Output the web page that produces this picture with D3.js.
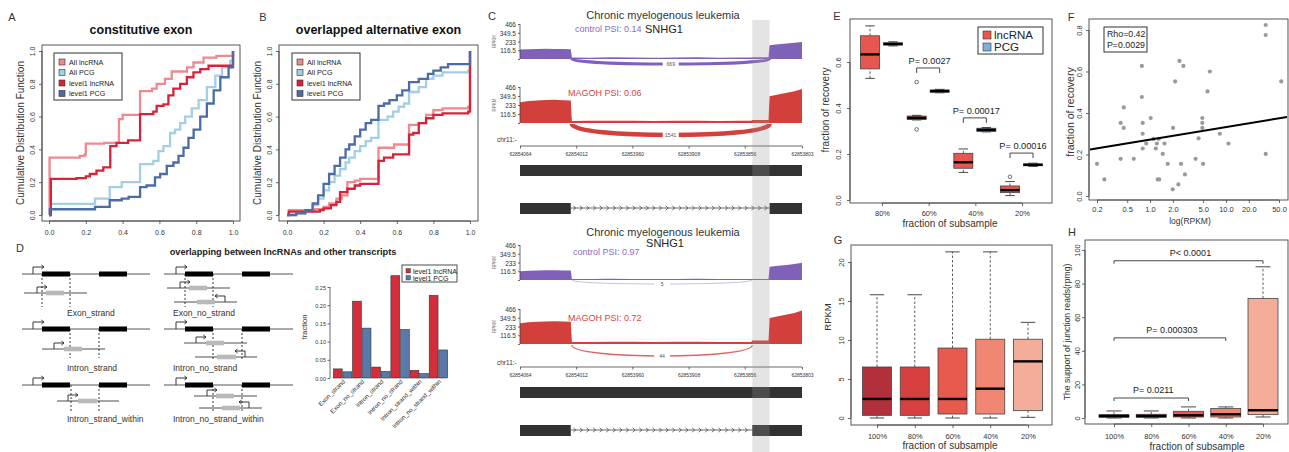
<!DOCTYPE html>
<html><head><meta charset="utf-8">
<script src="https://cdn.jsdelivr.net/npm/d3@7/dist/d3.min.js"></script>
<style>html,body{margin:0;padding:0;background:#fff}</style>
</head><body>
<svg id="fig" width="1289" height="452" xmlns="http://www.w3.org/2000/svg"></svg>
<script>
// ================= DATA =================
// Panel A/B: cumulative distributions (step points)
const cdfNames = ["All lncRNA","All PCG","level1 lncRNA","level1 PCG"];
const A_allLnc_x = [0,0.003,0.167,0.195,0.2,0.3,0.38,0.4,0.495,0.56,0.585,0.63,0.667,0.75,0.785,0.84,0.91,0.99,1.0];
const A_allLnc_y = [0,0.35,0.36,0.37,0.435,0.44,0.585,0.61,0.755,0.77,0.8,0.83,0.875,0.9,0.93,0.96,0.97,0.97,1.0];
const A_allPcg_x = [0,0.005,0.25,0.33,0.395,0.495,0.567,0.595,0.622,0.658,0.685,0.713,0.74,0.776,0.813,0.858,0.904,0.94,0.985,1.0];
const A_allPcg_y = [0,0.068,0.1,0.17,0.2,0.31,0.33,0.39,0.42,0.5,0.52,0.56,0.6,0.65,0.7,0.78,0.85,0.9,0.94,1.0];
const A_lvlLnc_x = [0,0.01,0.15,0.2,0.222,0.258,0.295,0.333,0.367,0.43,0.495,0.567,0.585,0.622,0.649,0.676,0.713,0.749,0.785,0.822,0.867,0.99,1.0];
const A_lvlLnc_y = [0,0.22,0.225,0.235,0.25,0.27,0.29,0.42,0.44,0.455,0.615,0.63,0.665,0.675,0.73,0.77,0.8,0.84,0.87,0.89,0.91,0.91,1.0];
const A_lvlPcg_x = [0,0.005,0.25,0.33,0.395,0.433,0.495,0.53,0.576,0.604,0.64,0.676,0.704,0.731,0.758,0.786,0.822,0.858,0.895,0.931,0.976,1.0];
const A_lvlPcg_y = [0,0.035,0.05,0.09,0.1,0.11,0.17,0.18,0.23,0.25,0.3,0.32,0.36,0.41,0.47,0.52,0.6,0.68,0.76,0.84,0.9,1.0];

const B_allLnc_x = [0,0.01,0.15,0.2,0.23,0.27,0.3,0.33,0.37,0.4,0.5,0.585,0.667,0.72,0.76,0.8,0.85,0.99,1.0];
const B_allLnc_y = [0,0.03,0.035,0.05,0.07,0.1,0.12,0.2,0.21,0.22,0.41,0.43,0.55,0.56,0.61,0.64,0.65,0.66,1.0];
const B_allPcg_x = [0,0.05,0.1,0.14,0.17,0.2,0.23,0.26,0.29,0.32,0.34,0.37,0.4,0.43,0.46,0.5,0.55,0.58,0.61,0.64,0.667,0.72,0.76,0.8,0.85,0.99,1.0];
const B_allPcg_y = [0,0.01,0.03,0.06,0.1,0.15,0.2,0.24,0.28,0.32,0.35,0.39,0.42,0.45,0.47,0.58,0.6,0.63,0.66,0.68,0.75,0.78,0.83,0.85,0.87,0.88,1.0];
const B_lvlLnc_x = [0,0.01,0.18,0.2,0.24,0.27,0.29,0.33,0.37,0.4,0.5,0.53,0.58,0.667,0.69,0.72,0.76,0.8,0.85,0.99,1.0];
const B_lvlLnc_y = [0,0.02,0.03,0.04,0.06,0.08,0.14,0.16,0.18,0.19,0.33,0.35,0.37,0.49,0.5,0.56,0.59,0.61,0.62,0.63,1.0];
const B_lvlPcg_x = [0,0.05,0.1,0.14,0.17,0.2,0.23,0.26,0.29,0.32,0.34,0.37,0.4,0.43,0.46,0.5,0.53,0.56,0.6,0.63,0.667,0.72,0.77,0.8,0.84,0.88,0.99,1.0];
const B_lvlPcg_y = [0,0.01,0.03,0.07,0.12,0.19,0.25,0.3,0.35,0.4,0.43,0.48,0.52,0.56,0.58,0.665,0.68,0.7,0.73,0.76,0.81,0.83,0.86,0.88,0.9,0.92,0.92,1.0];
const cdfTicks = [0,0.2,0.4,0.6,0.8,1.0];

// Panel C: sashimi coverage
const C_pos = [62854064,62854056,62854048,62854040,62854032,62854024,62854017,62854016,62854000,62853980,62853960,62853940,62853920,62853900,62853880,62853860,62853850,62853849,62853834,62853833,62853825,62853817,62853810,62853803];
const C_ctrl1  = [125,130,134,136,134,132,130,20,18,22,20,18,20,22,18,20,20,22,22,182,195,205,215,228];
const C_magoh1 = [270,285,292,298,300,296,290,25,28,30,28,27,30,28,26,28,28,40,40,345,370,390,410,440];
const C_ctrl2  = [118,124,128,130,130,128,126,12,14,15,14,13,14,15,13,12,12,14,14,175,190,200,212,230];
const C_magoh2 = [275,290,296,300,302,298,295,25,28,30,30,28,30,29,27,28,28,48,48,345,370,392,412,445];
const C_yTicks = [0,116.5,233,349.5,466];
const C_gTicks = [62854064,62854012,62853960,62853908,62853856,62853803];
const C_junc1 = [62854016,62853833];   // exon-skipping junction, upper panel
const C_junc2 = [62854016,62853849];   // junction, lower panel
const C_counts = [669,1541,5,44];
const C_psi = ["control PSI: 0.14","MAGOH PSI: 0.06","control PSI: 0.97","MAGOH PSI: 0.72"];
const C_model1 = [[62854064,62853803]];
const C_model2top = [[62854064,62854017],[62853833,62853803]];
const C_model2bot = [[62854064,62854017],[62853849,62853803]];
const C_band = [62853849,62853833];

// Panel D bars
const D_cats = ["Exon_strand","Exon_no_strand","Intron_strand","Intron_no_strand","Intron_strand_within","Intron_no_strand_within"];
const D_lnc = [0.025,0.211,0.030,0.281,0.021,0.227];
const D_pcg = [0.017,0.137,0.018,0.133,0.012,0.077];
const D_ticks = [0,0.05,0.10,0.15,0.20,0.25];

// Panel E boxplots [min,q1,median,q3,max]
const E_cats = ["80%","60%","40%","20%"];
const E_lnc = [[0.529,0.570,0.633,0.714,0.757],[0.348,0.350,0.357,0.365,0.368],[0.120,0.138,0.164,0.203,0.222],[0.019,0.032,0.043,0.061,0.080]];
const E_lncOut = [[],[0.513,0.307],[],[0.101]];
const E_pcg = [[0.670,0.674,0.678,0.684,0.688],[0.466,0.468,0.474,0.478,0.481],[0.296,0.298,0.305,0.312,0.315],[0.146,0.149,0.153,0.157,0.160]];
const E_pLabels = ["P= 0.0027","P= 0.00017","P= 0.00016"];
const E_pCats = ["60%","40%","20%"];
const E_pLevels = [0.574,0.357,0.204];
const E_ticks = [0,0.2,0.4,0.6];

// Panel F scatter
const F_rpkm = [0.2,0.25,0.41,0.45,0.45,0.41,0.61,0.78,0.78,0.8,0.8,0.8,0.89,1.02,1.11,1.19,1.23,1.26,1.32,1.3,1.47,1.55,1.71,1.99,2.01,2.14,2.36,2.44,2.56,2.75,2.88,3.98,4.36,4.88,4.88,4.88,5.0,5.72,6.14,8.3,10.8,33.4,33.4,33.4,53.6];
const F_recovery = [0.155,0.08,0.352,0.328,0.427,0.179,0.179,0.627,0.477,0.352,0.30,0.229,0.253,0.376,0.275,0.229,0.253,0.08,0.08,0.275,0.203,0.253,0.155,0.032,0.328,0.552,0.056,0.651,0.155,0.627,0.104,0.179,0.278,0.376,0.352,0.328,0.155,0.504,0.6,0.30,0.253,0.824,0.776,0.203,0.552];
const F_fit = [0.2717,0.0605]; // intercept, slope on log10(RPKM)
const F_xticks = [0.2,0.5,1,2,5,10,20,50];
const F_yticks = [0,0.2,0.4,0.6,0.8];
const F_stats = ["Rho=0.42","P=0.0029"];

// Panel G / H boxplots
const GH_cats = ["100%","80%","60%","40%","20%"];
const G_stats = [[0,0.34,2.44,6.54,15.8],[0,0.34,2.44,6.54,15.8],[0,0.51,2.44,8.97,21.3],[0,0.51,3.76,10.1,21.3],[0.085,0.94,7.26,10.1,12.26]];
const G_ticks = [0,5,10,15,20];
const H_stats = [[0,0.4,1.2,2.0,4.2],[0,0.4,1.2,2.2,4.2],[0,0.6,1.6,4.0,6.6],[0,0.6,2.2,5.6,6.6],[0.6,2.0,4.6,71.2,90]];
const H_ticks = [0,20,40,60,80,100];
const H_pTo = ["20%","40%","60%"];
const H_pLevels = [93.6,47.7,11.9];
const H_pLabels = ["P< 0.0001","P= 0.000303","P= 0.0211"];

// ================= STYLE / HELPERS =================
const FONT = '"Liberation Sans", Arial, Helvetica, sans-serif';
const INK = "#222", AXC = "#444";
const cdfColors = ["#f2878e","#a3cfe2","#d5243a","#4c6ca6"];
const subColors = ["#b2303b","#d8403f","#e95a4e","#ef8772","#f4ad99"];
const svg = d3.select("#fig").attr("font-family", FONT);
svg.append("rect").attr("width",1289).attr("height",452).attr("fill","#fff");

function T(x,y,s,o={}){
  const t = svg.append("text").attr("x",x).attr("y",y).text(s)
    .attr("font-size",o.size||8).attr("fill",o.fill||INK)
    .attr("text-anchor",o.anchor||"middle").attr("dominant-baseline","central");
  if(o.bold) t.attr("font-weight","bold");
  if(o.rot!=null) t.attr("transform",`rotate(${o.rot},${x},${y})`);
  return t;
}
function frame(x1,y1,x2,y2){
  svg.append("rect").attr("x",x1).attr("y",y1).attr("width",x2-x1).attr("height",y2-y1)
    .attr("fill","none").attr("stroke",AXC).attr("stroke-width",0.9);
}
function axisLeftR(scale,ticks,x,o={}){
  const a = d3.axisLeft(scale).tickValues(ticks).tickSize(o.len||3).tickSizeOuter(0).tickFormat(o.fmt||(d=>d));
  const gg = svg.append("g").attr("transform",`translate(${x},0)`).call(a).attr("font-family",FONT);
  gg.select(".domain").remove();
  gg.append("line").attr("y1",scale(ticks[0])).attr("y2",scale(ticks[ticks.length-1])).attr("stroke",AXC).attr("stroke-width",0.8);
  gg.selectAll(".tick line").attr("stroke",AXC).attr("stroke-width",0.8);
  const tx = gg.selectAll(".tick text").attr("font-size",o.size||7).attr("fill","#333");
  if(o.rot){
    tx.attr("x",null).attr("dy",null).attr("text-anchor","middle").attr("dominant-baseline","central")
      .attr("transform",`translate(${-o.off},0) rotate(-90)`);
  } else {
    tx.attr("x",-(o.off||5)).attr("dy",null).attr("dominant-baseline","central");
  }
  return gg;
}
function axisBottomR(scale,ticks,y,o={}){
  const a = d3.axisBottom(scale).tickValues(ticks).tickSize(o.len||3).tickSizeOuter(0).tickFormat(o.fmt||(d=>d));
  const gg = svg.append("g").attr("transform",`translate(0,${y})`).call(a).attr("font-family",FONT);
  gg.select(".domain").remove();
  gg.append("line").attr("x1",scale(ticks[0])).attr("x2",scale(ticks[ticks.length-1])).attr("stroke",AXC).attr("stroke-width",0.8);
  gg.selectAll(".tick line").attr("stroke",AXC).attr("stroke-width",0.8);
  gg.selectAll(".tick text").attr("font-size",o.size||7).attr("fill","#333").attr("y",null).attr("dy",null)
    .attr("dominant-baseline","central").attr("transform",`translate(0,${o.off||10})`);
  return gg;
}
function boxR(cx,w,s,y,fill,o={}){
  const [mn,q1,md,q3,mx] = s;
  const g = svg.append("g");
  const wl = (a,b)=>g.append("line").attr("x1",cx).attr("x2",cx).attr("y1",y(a)).attr("y2",y(b))
      .attr("stroke","#333").attr("stroke-width",0.8).attr("stroke-dasharray","2.5,2");
  wl(q3,mx); wl(mn,q1);
  const cap = v=>g.append("line").attr("x1",cx-w/4).attr("x2",cx+w/4).attr("y1",y(v)).attr("y2",y(v))
      .attr("stroke","#333").attr("stroke-width",0.9);
  cap(mx); cap(mn);
  g.append("rect").attr("x",cx-w/2).attr("width",w).attr("y",y(q3)).attr("height",Math.max(0.6,y(q1)-y(q3)))
    .attr("fill",fill).attr("stroke","#444").attr("stroke-width",0.8);
  g.append("line").attr("x1",cx-w/2).attr("x2",cx+w/2).attr("y1",y(md)).attr("y2",y(md))
    .attr("stroke","#000").attr("stroke-width",o.mw||2.4);
  (o.out||[]).forEach(v=>g.append("circle").attr("cx",cx).attr("cy",y(v)).attr("r",1.8)
    .attr("fill","none").attr("stroke","#333").attr("stroke-width",0.7));
}
function bracket(x1,x2,yy,drop){
  svg.append("path").attr("d",`M${x1},${yy+drop}V${yy}H${x2}V${yy+drop}`)
    .attr("fill","none").attr("stroke","#333").attr("stroke-width",0.9);
}

// ================= PANELS A & B =================
function drawCDF(c){
  const x = d3.scaleLinear([0,1],[c.x0,c.x1]);
  const y = d3.scaleLinear([0,1],[215,51]);
  const line = d3.line().x(d=>x(d[0])).y(d=>y(d[1])).curve(d3.curveStepAfter);
  c.series.forEach((s,i)=>{
    const pts = s[0].map((v,j)=>[v,s[1][j]]);
    svg.append("path").attr("d",line(pts)).attr("fill","none").attr("stroke",cdfColors[i])
      .attr("stroke-width",2.3).attr("stroke-linejoin","miter");
  });
  frame(c.fl,45,c.fr,221);
  axisBottomR(x,cdfTicks,221,{fmt:d3.format(".1f"),size:7,off:11});
  axisLeftR(y,cdfTicks,c.fl,{fmt:d3.format(".1f"),size:7,rot:true,off:10});
  // legend
  const lx = c.x0+5, ly = 53;
  svg.append("rect").attr("x",lx).attr("y",ly).attr("width",68).attr("height",47)
    .attr("fill","#fff").attr("stroke","#333").attr("stroke-width",1);
  cdfNames.forEach((n,i)=>{
    const yy = ly+9+i*10.5;
    svg.append("rect").attr("x",lx+5).attr("y",yy-3).attr("width",6).attr("height",6)
      .attr("fill",cdfColors[i]).attr("stroke","#333").attr("stroke-width",0.6);
    T(lx+15,yy,n,{size:7.2,anchor:"start"});
  });
  T((c.fl+c.fr)/2,c.titleY,c.title,{size:12.5,bold:true,fill:"#111"});
  T(c.fl-22,133,"Cumulative Distribution Function",{size:10,rot:-90,fill:"#333"});
  T(c.letterX,17,c.letter,{size:11,fill:"#333"});
}
drawCDF({x0:49,x1:233,fl:42,fr:240,title:"constitutive exon",titleY:30,letter:"A",letterX:12,
  series:[[A_allLnc_x,A_allLnc_y],[A_allPcg_x,A_allPcg_y],[A_lvlLnc_x,A_lvlLnc_y],[A_lvlPcg_x,A_lvlPcg_y]]});
drawCDF({x0:287,x1:470,fl:279,fr:478,title:"overlapped alternative exon",titleY:30,letter:"B",letterX:263,
  series:[[B_allLnc_x,B_allLnc_y],[B_allPcg_x,B_allPcg_y],[B_lvlLnc_x,B_lvlLnc_y],[B_lvlPcg_x,B_lvlPcg_y]]});

// ================= PANEL C =================
const xg = d3.scaleLinear([62854064,62853803],[520,802]);
const PURPLE = "#8061b8", RED = "#d33f3a";
const arcW = d3.scaleSqrt([0,1541],[0.6,4.5]);
function track(vals,base,top,color){
  const y = d3.scaleLinear([0,466],[base,top]);
  const area = d3.area().x((d,i)=>xg(C_pos[i])).y0(base).y1(d=>y(d));
  svg.append("path").attr("d",area(vals)).attr("fill",color);
  axisLeftR(y,C_yTicks,520,{len:2,size:6.5,off:4,fmt:d=>d===0?"":d});
  T(494,(base+top)/2,"RPKM",{size:4.5,rot:-90,fill:"#777"});
}
function sashArc(j,base,depth,count,color,op){
  const x1 = xg(j[0]), x2 = xg(j[1]), k = depth/0.75;
  svg.append("path").attr("d",`M${x1},${base}C${x1},${base+k} ${x2},${base+k} ${x2},${base}`)
    .attr("fill","none").attr("stroke",color).attr("stroke-width",arcW(count)).attr("opacity",op);
  const cx = (x1+x2)/2;
  svg.append("rect").attr("x",cx-8).attr("y",base+depth-3).attr("width",16).attr("height",6).attr("fill","#fff");
  T(cx,base+depth,count,{size:5.2,fill:"#555"});
}
function geneModels(model2,y1,y2){
  C_model1.forEach(e=>svg.append("rect").attr("x",xg(e[0])).attr("y",y1).attr("width",xg(e[1])-xg(e[0])).attr("height",11).attr("fill","#303234"));
  const yc = y2+5;
  const i1 = xg(model2[0][1]), i2 = xg(model2[1][0]);
  svg.append("line").attr("x1",i1).attr("x2",i2).attr("y1",yc).attr("y2",yc).attr("stroke","#444").attr("stroke-width",0.8);
  d3.range(i1+4,i2-2,6.6).forEach(cx=>svg.append("path").attr("d",`M${cx-1.5},${yc-2.2}L${cx+1},${yc}L${cx-1.5},${yc+2.2}`)
    .attr("fill","none").attr("stroke","#333").attr("stroke-width",0.7));
  model2.forEach(e=>svg.append("rect").attr("x",xg(e[0])).attr("y",y2).attr("width",xg(e[1])-xg(e[0])).attr("height",11).attr("fill","#303234"));
}
function genomeAxis(yAx,yChr){
  T(497,yChr,"chr11:-",{size:6.5,anchor:"start",fill:"#333"});
  axisBottomR(xg,C_gTicks,yAx,{len:2.5,size:5,off:8});
}
// upper
T(663,15,"Chronic myelogenous leukemia",{size:11,fill:"#333"});
T(575,29,C_psi[0],{size:9,anchor:"start",fill:"#8a6cc0"});
T(645,29,"SNHG1",{size:11,anchor:"start",fill:"#222"});
track(C_ctrl1,59,24,PURPLE);
sashArc(C_junc1,59,5,C_counts[0],PURPLE,1);
track(C_magoh1,123,87,RED);
T(568,93,C_psi[1],{size:9,anchor:"start",fill:"#d6443f"});
sashArc(C_junc1,124,11,C_counts[1],RED,1);
genomeAxis(146,139);
geneModels(C_model2top,165,203);
// lower
T(663,232,"Chronic myelogenous leukemia",{size:11,fill:"#333"});
T(665,243,"SNHG1",{size:11,fill:"#222"});
T(573,252,C_psi[2],{size:9,anchor:"start",fill:"#8a6cc0"});
track(C_ctrl2,280,245,PURPLE);
sashArc(C_junc2,280,4,C_counts[2],PURPLE,0.5);
track(C_magoh2,344,309,RED);
T(568,318,C_psi[3],{size:9,anchor:"start",fill:"#d6443f"});
sashArc(C_junc2,345,11,C_counts[3],RED,0.8);
genomeAxis(367,362);
geneModels(C_model2bot,387,425);
svg.append("rect").attr("x",xg(C_band[0])).attr("y",20).attr("width",xg(C_band[1])-xg(C_band[0])).attr("height",432)
  .attr("fill","#969696").attr("opacity",0.26);
T(492,16,"C",{size:11,fill:"#333"});

// ================= PANEL D =================
T(20,248,"D",{size:11,fill:"#333"});
T(283,252,"overlapping between lncRNAs and other transcripts",{size:9.2,bold:true,fill:"#222"});
const D_cols = [{x1:22,x2:150,ex:[[42,70],[99,127]],tss:33,lab:67},{x1:164,x2:293,ex:[[185,213],[242,270]],tss:176,lab:173}];
const D_diagrams = [
 {col:0,base:274,dash:[42,70],dashEnd:307,labelY:313,subs:[{y:293,x1:24,x2:87,g1:46,g2:64,tss:37,dir:1}]},
 {col:0,base:329,dash:[70,99],dashEnd:358,labelY:368,subs:[{y:349,x1:42,x2:105,g1:64,g2:82,tss:54,dir:1}]},
 {col:0,base:385,dash:[71,99],dashEnd:412,labelY:419,subs:[{y:401,x1:57,x2:119,g1:78,g2:97,tss:68,dir:1}]},
 {col:1,base:274,dash:[185,213],dashEnd:307,labelY:313,subs:[{y:288,x1:167,x2:230,g1:189,g2:207,tss:180,dir:1},{y:302,x1:174,x2:237,g1:197,g2:215,tss:225,dir:-1}]},
 {col:1,base:329,dash:[213,242],dashEnd:360,labelY:368,subs:[{y:343,x1:184,x2:247,g1:206,g2:224,tss:196,dir:1},{y:357,x1:195,x2:257,g1:217,g2:236,tss:245,dir:-1}]},
 {col:1,base:385,dash:[213,242],dashEnd:412,labelY:419,subs:[{y:396,x1:194,x2:257,g1:216,g2:234,tss:207,dir:1},{y:408,x1:199,x2:262,g1:222,g2:240,tss:249,dir:-1}]}
];
const D_names = ["Exon_strand","Intron_strand","Intron_strand_within","Exon_no_strand","Intron_no_strand","Intron_no_strand_within"];
function tssArrow(x,y,dir,h,w){
  const xe = x+dir*w, yt = y-h;
  svg.append("path").attr("d",`M${x},${y}V${yt}H${xe}M${xe-dir*2.6},${yt-2}L${xe},${yt}L${xe-dir*2.6},${yt+2}`)
    .attr("fill","none").attr("stroke","#222").attr("stroke-width",0.9);
}
D_diagrams.forEach((d,i)=>{
  const c = D_cols[d.col];
  d.dash.forEach(xx=>svg.append("line").attr("x1",xx).attr("x2",xx).attr("y1",d.base).attr("y2",d.dashEnd)
    .attr("stroke","#222").attr("stroke-width",0.9).attr("stroke-dasharray","2,2"));
  svg.append("line").attr("x1",c.x1).attr("x2",c.x2).attr("y1",d.base).attr("y2",d.base).attr("stroke","#555").attr("stroke-width",1);
  c.ex.forEach(e=>svg.append("rect").attr("x",e[0]).attr("y",d.base-2.5).attr("width",e[1]-e[0]).attr("height",5).attr("fill","#000"));
  tssArrow(c.tss,d.base,1,7,11);
  d.subs.forEach(s=>{
    svg.append("line").attr("x1",s.x1).attr("x2",s.x2).attr("y1",s.y).attr("y2",s.y).attr("stroke","#222").attr("stroke-width",0.8);
    svg.append("rect").attr("x",s.g1).attr("y",s.y-2.3).attr("width",s.g2-s.g1).attr("height",4.6).attr("fill","#b9b9b9");
    tssArrow(s.tss,s.y,s.dir,6,10);
  });
  T(c.lab,d.labelY,D_names[i],{size:8.5,anchor:"start",fill:"#333"});
});
// bar chart
const xD = d3.scaleBand(D_cats,[333,448]);
const xDi = d3.scaleBand(["lnc","pcg"],[0,xD.bandwidth()]).paddingInner(0.08).paddingOuter(0.04);
const yD = d3.scaleLinear([0,0.25],[378,287]);
D_cats.forEach((c,i)=>{
  [["lnc",D_lnc[i],"#d32d3b"],["pcg",D_pcg[i],"#5a78aa"]].forEach(b=>{
    svg.append("rect").attr("x",xD(c)+xDi(b[0])).attr("width",xDi.bandwidth()).attr("y",yD(b[1])).attr("height",yD(0)-yD(b[1]))
      .attr("fill",b[2]).attr("stroke","#333").attr("stroke-width",0.6);
  });
  const gx = xD(c)+xD.bandwidth()/2+3;
  T(gx,382,c,{size:6.2,anchor:"end",rot:-45,fill:"#333"}).attr("dominant-baseline","auto");
});
axisLeftR(yD,D_ticks,330,{len:2.5,size:5.5,off:4,fmt:d3.format(".2f")}).selectAll(".tick text").attr("text-anchor","end");
T(304,327,"fraction",{size:7.6,rot:-90,fill:"#333"});
svg.append("rect").attr("x",402).attr("y",265).attr("width",55).attr("height",17).attr("fill","#fff").attr("stroke","#222").attr("stroke-width",0.8);
[["level1 lncRNA","#d32d3b"],["level1 PCG","#5a78aa"]].forEach((l,i)=>{
  svg.append("rect").attr("x",406).attr("y",268.5+i*7).attr("width",4.5).attr("height",4.5).attr("fill",l[1]).attr("stroke","#333").attr("stroke-width",0.4);
  T(413,271+i*7,l[0],{size:7,anchor:"start"});
});

// ================= PANEL E =================
const xE = d3.scalePoint(E_cats,[882,1022]);
const yE = d3.scaleLinear([0,0.6],[200,62]);
frame(850,19,1052,203);
E_cats.forEach((c,i)=>{
  boxR(xE(c)-12,19,E_lnc[i],yE,"#e8574f",{out:E_lncOut[i]});
  boxR(xE(c)+11,19,E_pcg[i],yE,"#7eaedb");
});
E_pCats.forEach((c,i)=>{
  const yy = yE(E_pLevels[i]);
  bracket(xE(c)-12,xE(c)+11,yy,5);
  T(xE(c)+1,yy-7,E_pLabels[i],{size:9.2});
});
axisLeftR(yE,E_ticks,850,{fmt:d3.format(".1f"),size:7.5,rot:true,off:12});
axisBottomR(xE,E_cats,203,{size:7.5,off:10});
T(825,110,"fraction of  recovery",{size:10,rot:-90,fill:"#333"});
T(950,223,"fraction of  subsample",{size:10,fill:"#333"});
svg.append("rect").attr("x",978).attr("y",27).attr("width",65).attr("height",27).attr("fill","#fff").attr("stroke","#333").attr("stroke-width",1);
[["lncRNA","#e8574f"],["PCG","#7eaedb"]].forEach((l,i)=>{
  svg.append("rect").attr("x",983).attr("y",31+i*12).attr("width",8).attr("height",8).attr("fill",l[1]).attr("stroke","#333").attr("stroke-width",0.6);
  T(994,35+i*12,l[0],{size:11.5,anchor:"start"});
});
T(837,16,"E",{size:11,fill:"#333"});

// ================= PANEL F =================
const xF = d3.scaleLog([0.2,50],[1097,1279]);
const yF = d3.scaleLinear([0,0.8],[196,30]);
frame(1089,19,1288,200);
F_rpkm.forEach((v,i)=>svg.append("circle").attr("cx",xF(v)).attr("cy",yF(F_recovery[i])).attr("r",2.1).attr("fill","#9a9a9a"));
const fx = [xF.invert(1090),xF.invert(1287)];
svg.append("line").attr("x1",xF(fx[0])).attr("x2",xF(fx[1]))
  .attr("y1",yF(F_fit[0]+F_fit[1]*Math.log10(fx[0]))).attr("y2",yF(F_fit[0]+F_fit[1]*Math.log10(fx[1])))
  .attr("stroke","#000").attr("stroke-width",2);
axisLeftR(yF,F_yticks,1089,{fmt:d3.format(".1f"),size:7.5,rot:true,off:10});
axisBottomR(xF,F_xticks,200,{fmt:d3.format(".1f"),size:7.5,off:9});
T(1070,112,"fraction of  recovery",{size:10.5,rot:-90,fill:"#333"});
T(1190,221,"log(RPKM)",{size:8.5,fill:"#333"});
svg.append("rect").attr("x",1104).attr("y",27).attr("width",43).attr("height",25).attr("fill","#fff").attr("stroke","#333").attr("stroke-width",1);
F_stats.forEach((s,i)=>T(1107,34+i*10.5,s,{size:8.8,anchor:"start"}));
T(1071,17,"F",{size:11,fill:"#333"});

// ================= PANEL G =================
const xG = d3.scalePoint(GH_cats,[877,1028]);
const yG = d3.scaleLinear([0,20],[418,262]);
frame(851,245,1052,425);
GH_cats.forEach((c,i)=>boxR(xG(c),29,G_stats[i],yG,subColors[i]));
axisLeftR(yG,G_ticks,851,{size:7.5,rot:true,off:10});
axisBottomR(xG,GH_cats,425,{size:7.5,off:11});
T(827,317,"RPKM",{size:9.5,rot:-90,fill:"#333"});
T(950,445,"fraction of  subsample",{size:10,fill:"#333"});
T(838,240,"G",{size:11,fill:"#333"});

// ================= PANEL H =================
const xH = d3.scalePoint(GH_cats,[1114,1263]);
const yH = d3.scaleLinear([0,100],[418,250]);
frame(1085,240,1288,424);
GH_cats.forEach((c,i)=>boxR(xH(c),30,H_stats[i],yH,subColors[i]));
H_pTo.forEach((c,i)=>{
  const yy = yH(H_pLevels[i]);
  bracket(xH("100%"),xH(c),yy,3);
  T((xH("100%")+xH(c))/2+2,yy-8,H_pLabels[i],{size:9});
});
axisLeftR(yH,H_ticks,1085,{size:7.5,rot:true,off:8});
axisBottomR(xH,GH_cats,424,{size:7.5,off:12});
T(1067,332,"The support of junction reads(rpmg)",{size:8.6,rot:-90,fill:"#333"});
T(1197,446,"fraction of  subsample",{size:10,fill:"#333"});
T(1072,232,"H",{size:11,fill:"#333"});
</script>
</body></html>
